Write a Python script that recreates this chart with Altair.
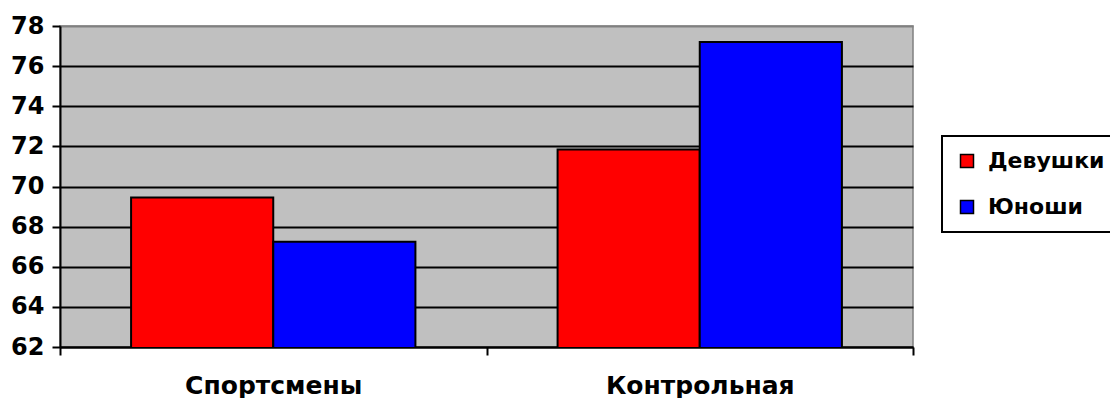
import altair as alt
import pandas as pd

groups = ["Спортсмены", "Контрольная"]
series = ["Девушки", "Юноши"]
girls = [69.45, 71.85]
boys = [67.25, 77.2]
colors = ["#FF0000", "#0000FF"]
y_ticks = [62, 64, 66, 68, 70, 72, 74, 76, 78]

rows = []
for i, g in enumerate(groups):
    rows.append({"group": g, "series": series[0], "value": girls[i]})
    rows.append({"group": g, "series": series[1], "value": boys[i]})
df = pd.DataFrame(rows)

FONT = "DejaVu Sans"

chart = (
    alt.Chart(df)
    .mark_bar(stroke="black", strokeWidth=2, clip=True)
    .encode(
        x=alt.X(
            "group:N",
            sort=groups,
            title=None,
            scale=alt.Scale(paddingInner=0, paddingOuter=0),
            axis=alt.Axis(
                labelAngle=0,
                tickBand="extent",
                domainColor="black",
                domainWidth=2,
                tickColor="black",
                tickWidth=2,
                tickSize=8,
                labelPadding=18,
                labelBaseline="top",
                labelFont=FONT,
                labelFontSize=25,
                labelFontWeight="bold",
                labelColor="black",
                labelLimit=400,
            ),
        ),
        xOffset=alt.XOffset(
            "series:N",
            sort=series,
            scale=alt.Scale(paddingInner=0, paddingOuter=0.5),
        ),
        y=alt.Y(
            "value:Q",
            title=None,
            scale=alt.Scale(domain=[62, 78], zero=False, nice=False),
            axis=alt.Axis(
                values=y_ticks,
                grid=True,
                gridColor={
                    "condition": {"test": "datum.value === 78", "value": "#808080"},
                    "value": "black",
                },
                gridWidth=2,
                domainColor="black",
                domainWidth=2,
                tickColor="black",
                tickWidth=2,
                tickSize=8,
                labelPadding=8,
                labelFont=FONT,
                labelFontSize=24,
                labelFontWeight="bold",
                labelColor="black",
            ),
        ),
        color=alt.Color(
            "series:N",
            sort=series,
            scale=alt.Scale(domain=series, range=colors),
            legend=alt.Legend(
                title=None,
                orient="none",
                legendX=882,
                legendY=110,
                symbolType="square",
                symbolSize=169,
                symbolStrokeColor="black",
                symbolStrokeWidth=1.5,
                symbolOpacity=1,
                labelFont=FONT,
                labelFontSize=22,
                labelFontWeight="bold",
                labelColor="black",
                labelOffset=10,
                rowPadding=24,
                padding=14,
                strokeColor="black",
                fillColor="white",
                labelLimit=300,
            ),
        ),
    )
    .properties(
        width=853,
        height=321,
        autosize=alt.AutoSizeParams(type="none"),
        padding={"left": 60, "top": 26, "right": 197, "bottom": 51},
        background="white",
    )
    .configure_view(fill="#C0C0C0", stroke="#808080", strokeWidth=1.5)
    .configure_legend(strokeWidth=2)
)

chart.save("out.html", embed_options={"renderer": "svg", "actions": False})
